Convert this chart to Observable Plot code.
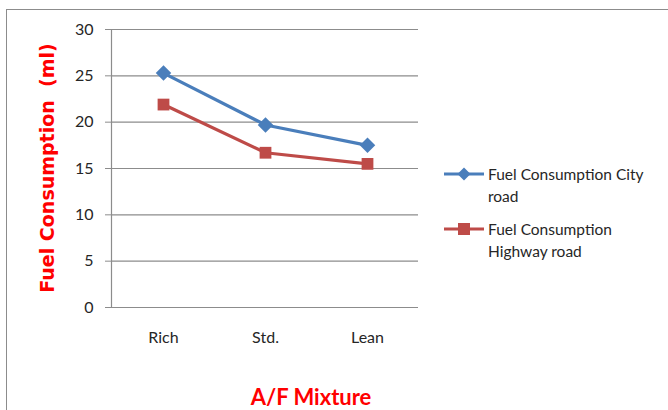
<!DOCTYPE html>
<html>
<head>
<meta charset="utf-8">
<script src="https://cdn.jsdelivr.net/npm/d3@7"></script>
<script src="https://cdn.jsdelivr.net/npm/@observablehq/plot@0.6"></script>
<style>
  html, body { margin: 0; padding: 0; background: #fff; }
  #wrap { position: relative; width: 668px; height: 410px; overflow: hidden; background: #fff; }
  #border { position: absolute; left: 6px; top: 9px; width: 700px; height: 500px; border-left: 1.5px solid #8c8c8c; border-top: 1.5px solid #8c8c8c; }
  #ytitle { position: absolute; left: 47px; top: 168px; transform: translate(-50%, -50%) rotate(-90deg); white-space: pre; color: #ff0000; font: bold 19px "DejaVu Sans", sans-serif; }
  #xtitle { position: absolute; left: 311px; top: 396px; transform: translate(-50%, -50%); white-space: nowrap; color: #ff0000; font: bold 22px Lato, sans-serif; }
  .leg { position: absolute; left: 444px; display: flex; align-items: flex-start; font: 15.5px Lato, sans-serif; color: #262626; line-height: 22px; }
  .leg svg { flex: none; margin-top: 0px; }
  .leg span { margin-left: 4px; }
  #plot { position: absolute; left: 0; top: 0; }
</style>
</head>
<body>
<div id="wrap">
  <div id="border"></div>
  <div id="plot"></div>
  <div id="ytitle"></div>
  <div id="xtitle"></div>
  <div id="legend"></div>
</div>
<script>
const categories = ["Rich", "Std.", "Lean"];
const seriesNames = ["Fuel Consumption City road", "Fuel Consumption Highway road"];
const cityValues = [25.3, 19.7, 17.5];
const highwayValues = [21.9, 16.7, 15.5];
const yTicks = [0, 5, 10, 15, 20, 25, 30];
const yTitle = "Fuel Consumption  (ml)";
const xTitle = "A/F Mixture";
const colors = ["#4a7ebb", "#be4b48"];
const legendLines = [["Fuel Consumption City", "road"], ["Fuel Consumption", "Highway road"]];

const city = categories.map((c, i) => ({cat: c, v: cityValues[i]}));
const highway = categories.map((c, i) => ({cat: c, v: highwayValues[i]}));

const chart = Plot.plot({
  width: 668,
  height: 410,
  marginLeft: 111,
  marginRight: 250,
  marginTop: 29,
  marginBottom: 103,
  style: {background: "transparent", fontFamily: "Lato, sans-serif"},
  x: {type: "point", domain: categories, padding: 0.5, label: null},
  y: {domain: [0, 30], label: null},
  marks: [
    Plot.ruleY(yTicks, {stroke: "#8c8c8c", strokeWidth: 1.2}),
    Plot.frame({anchor: "left", stroke: "#8c8c8c", strokeWidth: 1.2}),
    Plot.axisY(yTicks, {tickSize: 6, tickPadding: 12, stroke: "#8c8c8c", fontSize: 16, fill: "#262626", label: null}),
    Plot.axisX({tickSize: 0, tickPadding: 24, fontSize: 16, fill: "#262626", label: null}),
    Plot.line(city, {x: "cat", y: "v", stroke: colors[0], strokeWidth: 3.2}),
    Plot.line(highway, {x: "cat", y: "v", stroke: colors[1], strokeWidth: 3.2}),
    Plot.dot(city, {x: "cat", y: "v", symbol: "diamond2", r: 7, fill: colors[0], stroke: "none"}),
    Plot.dot(highway, {x: "cat", y: "v", symbol: "square2", r: 7.5, fill: colors[1], stroke: "none"})
  ]
});
document.getElementById("plot").appendChild(chart);
document.getElementById("ytitle").textContent = yTitle;
document.getElementById("xtitle").textContent = xTitle;

const legend = document.getElementById("legend");
const legTops = [163, 218];
const symbols = [
  '<polygon points="20,4.5 26.5,11 20,17.5 13.5,11" fill="' + colors[0] + '"/>',
  '<rect x="14" y="5" width="12" height="12" fill="' + colors[1] + '"/>'
];
seriesNames.forEach((name, i) => {
  const d = document.createElement("div");
  d.className = "leg";
  d.style.top = legTops[i] + "px";
  d.title = name;
  d.innerHTML = '<svg width="40" height="22"><line x1="0" x2="40" y1="11" y2="11" stroke="' + colors[i] + '" stroke-width="3"/>' + symbols[i] + '</svg><span>' + legendLines[i][0] + '<br>' + legendLines[i][1] + '</span>';
  legend.appendChild(d);
});
</script>
</body>
</html>
